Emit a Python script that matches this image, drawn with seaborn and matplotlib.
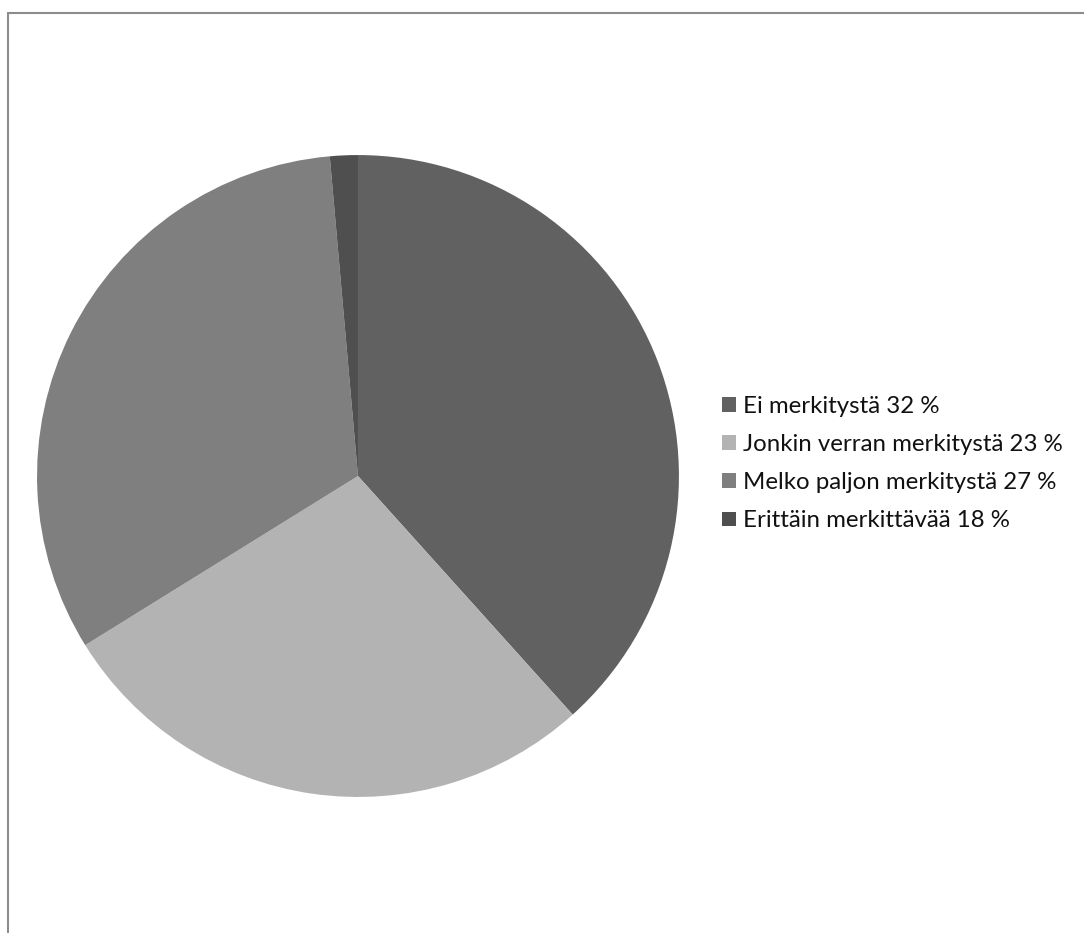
import matplotlib
matplotlib.use("Agg")
import matplotlib.pyplot as plt
from matplotlib.lines import Line2D
from matplotlib.patches import Patch
import seaborn as sns

# Category labels and slice shares (percent of the whole)
labels = [
    "Ei merkitystä 32 %",
    "Jonkin verran merkitystä 23 %",
    "Melko paljon merkitystä 27 %",
    "Erittäin merkittävää 18 %",
]
shares = [38.3, 27.8, 32.4, 1.4]
colors = ["#616161", "#b3b3b3", "#7f7f7f", "#4f4f4f"]

sns.set_style("white")
plt.rcParams["font.family"] = ["Lato", "DejaVu Sans"]

fig = plt.figure(figsize=(10.84, 9.33), dpi=100)
ax = fig.add_axes([0.0341, 0.1458, 0.5923, 0.688])
palette = sns.color_palette(colors)
wedges, _ = ax.pie(shares, colors=palette, startangle=90, counterclock=False,
                   wedgeprops=dict(linewidth=0))
ax.set_xlim(-1, 1)
ax.set_ylim(-1, 1)
ax.set_aspect("equal")
ax.axis("off")

handles = [Patch(facecolor=c, edgecolor="none") for c in palette]
fig.legend(handles, labels, loc="center left", bbox_to_anchor=(0.6575, 0.503),
           frameon=False, fontsize=17.3, handlelength=0.55, handleheight=0.55,
           handletextpad=0.33, labelspacing=0.71, borderaxespad=0,
           labelcolor="#111111")

# Chart-area frame along the top and left edges
fig.add_artist(Line2D([8 / 1084, 1], [1 - 13 / 933, 1 - 13 / 933],
                      transform=fig.transFigure, color="#8c8c8c", linewidth=1.5))
fig.add_artist(Line2D([8 / 1084, 8 / 1084], [0, 1 - 13 / 933],
                      transform=fig.transFigure, color="#8c8c8c", linewidth=1.5))

fig.savefig("out.png", dpi=100, facecolor="white")
